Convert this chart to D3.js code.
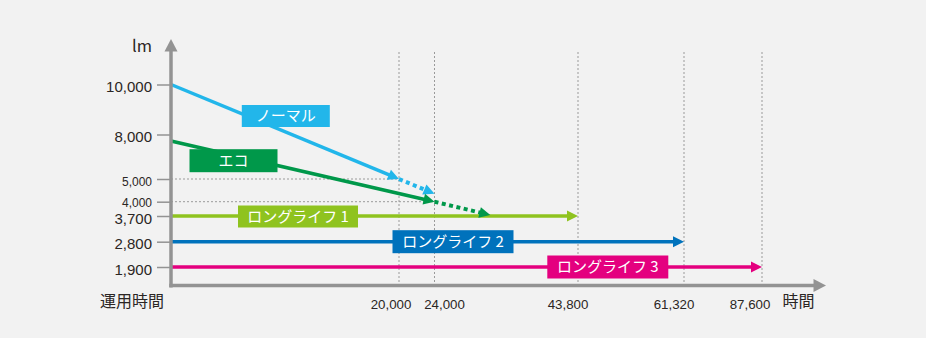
<!DOCTYPE html>
<html>
<head>
<meta charset="utf-8">
<script src="https://cdn.jsdelivr.net/npm/d3@7"></script>
<style>
  html, body { margin: 0; padding: 0; background: #f2f2f2; }
  svg { display: block; font-family: "Noto Sans CJK JP", "Noto Sans", sans-serif; }
</style>
</head>
<body>
<svg id="chart" width="926" height="338"></svg>
<script>
// ---- data ----
const yTicks = [10000, 8000, 5000, 4000, 3700, 2800, 1900];
const yTickLabels = ["10,000", "8,000", "5,000", "4,000", "3,700", "2,800", "1,900"];
const xTicks = [20000, 24000, 43800, 61320, 87600];
const xTickLabels = ["20,000", "24,000", "43,800", "61,320", "87,600"];
const seriesNames = ["ノーマル", "エコ", "ロングライフ 1", "ロングライフ 2", "ロングライフ 3"];
const unitLabel = "lm";
const yAxisTitle = "運用時間";
const xAxisTitle = "時間";

// [hours, lumens]
const normalSolid  = [[0, 10000], [20000, 5000]];
const normalDotted = [[20000, 5000], [24000, 4350]];
const ecoSolid     = [[0, 7560], [24000, 4000]];
const ecoDotted    = [[24000, 4000], [31700, 3720]];
const longLife1    = [[0, 3700], [43800, 3700]];
const longLife2    = [[0, 2800], [61320, 2800]];
const longLife3    = [[0, 1900], [87600, 1900]];

// reference guides drawn from the y axis to the matching hour line
const guides = [[5000, 20000], [4000, 24000]];

// ---- layout / style ----
const colors = ["#22b6ea", "#00984a", "#8fc31f", "#0072bc", "#e4007f"];
const axisColor = "#939393";
const textColor = "#2b2624";
const numFont = "'Liberation Sans', Arial, sans-serif";
const origin = { x: 171, y: 285.5 };

const svg = d3.select("#chart");
svg.append("rect").attr("width", 926).attr("height", 338).attr("fill", "#f2f2f2");

// schematic (piecewise) scales
const x = d3.scaleLinear()
  .domain([0, 20000, 24000, 43800, 61320, 87600])
  .range([origin.x, 399, 434.5, 578, 684, 762]);
const y = d3.scaleLinear()
  .domain([1900, 2800, 3700, 4000, 5000, 8000, 10000])
  .range([267, 241.7, 216, 201.7, 179, 134.5, 84.5]);

const gGrid = svg.append("g");
// vertical dotted hour lines
gGrid.selectAll("line.v").data(xTicks).join("line")
  .attr("x1", d => x(d)).attr("x2", d => x(d))
  .attr("y1", 52).attr("y2", origin.y)
  .attr("stroke", "#9a9a9a").attr("stroke-width", 1)
  .attr("stroke-dasharray", "2,2");
// horizontal dotted guides
gGrid.selectAll("line.h").data(guides).join("line")
  .attr("x1", origin.x).attr("x2", d => x(d[1]))
  .attr("y1", d => y(d[0])).attr("y2", d => y(d[0]))
  .attr("stroke", "#9a9a9a").attr("stroke-width", 1)
  .attr("stroke-dasharray", "2,2");

// line with arrowhead at the last point
function arrowLine(g, pts, color, dotted) {
  const p0 = [x(pts[0][0]), y(pts[0][1])];
  const p1 = [x(pts[1][0]), y(pts[1][1])];
  const dx = p1[0] - p0[0], dy = p1[1] - p0[1];
  const len = Math.hypot(dx, dy);
  const ux = dx / len, uy = dy / len;
  const headLen = 11, headHalf = 5.5;
  const bx = p1[0] - ux * headLen, by = p1[1] - uy * headLen;
  g.append("line")
    .attr("x1", p0[0]).attr("y1", p0[1])
    .attr("x2", bx + ux * 1).attr("y2", by + uy * 1)
    .attr("stroke", color).attr("stroke-width", dotted ? 4 : 3.5)
    .attr("stroke-dasharray", dotted ? "4,3.5" : null);
  g.append("path")
    .attr("d", d3.line()([
      [p1[0], p1[1]],
      [bx - uy * headHalf, by + ux * headHalf],
      [bx + uy * headHalf, by - ux * headHalf]
    ]) + "Z")
    .attr("fill", color);
}

const gLines = svg.append("g");
arrowLine(gLines, longLife1, colors[2], false);
arrowLine(gLines, longLife2, colors[3], false);
arrowLine(gLines, longLife3, colors[4], false);
arrowLine(gLines, normalSolid, colors[0], false);
arrowLine(gLines, normalDotted, colors[0], true);
arrowLine(gLines, ecoSolid, colors[1], false);
arrowLine(gLines, ecoDotted, colors[1], true);

// label boxes: centre x, centre y, width, height
const boxes = [
  { cx: 285.8, cy: 116, w: 88, h: 22 },
  { cx: 233.5, cy: 160.7, w: 88, h: 23 },
  { cx: 298, cy: y(3700) + 0.5, w: 120, h: 22 },
  { cx: 453, cy: y(2800), w: 121, h: 23 },
  { cx: 607.8, cy: y(1900), w: 121, h: 23 }
];
const gBoxes = svg.append("g");
seriesNames.forEach((name, i) => {
  const b = boxes[i];
  gBoxes.append("rect")
    .attr("x", b.cx - b.w / 2).attr("y", b.cy - b.h / 2)
    .attr("width", b.w).attr("height", b.h)
    .attr("fill", colors[i]);
  gBoxes.append("text")
    .attr("x", b.cx).attr("y", b.cy)
    .attr("dy", "0.36em")
    .attr("text-anchor", "middle")
    .attr("fill", "#fff")
    .attr("font-size", 15)
    .text(name);
});

// ---- axes ----
const yAxis = d3.axisLeft(y)
  .tickValues(yTicks)
  .tickSize(13)
  .tickPadding(5)
  .tickFormat((d, i) => yTickLabels[i]);
const gy = svg.append("g")
  .attr("transform", `translate(${origin.x - 1},0)`)
  .call(yAxis);
gy.select(".domain").remove();
gy.selectAll(".tick line").attr("stroke", axisColor).attr("stroke-width", 1.5);
const smallTick = d => d === 5000 || d === 4000;
gy.selectAll(".tick text")
  .attr("fill", textColor)
  .attr("font-family", numFont)
  .attr("font-size", d => smallTick(d) ? 12 : 15)
  .attr("dy", "0.35em")
  .attr("y", d => d === 4000 ? 0.5 : 2);

const xOffsets = [-8, 10, -10, -10, -12];
const gx = svg.append("g");
gx.selectAll("text").data(xTicks).join("text")
  .attr("x", (d, i) => x(d) + xOffsets[i])
  .attr("y", 304)
  .attr("dy", "0.35em")
  .attr("text-anchor", "middle")
  .attr("font-family", numFont)
  .attr("font-size", 13.3)
  .attr("fill", textColor)
  .text((d, i) => xTickLabels[i]);

// axis lines with arrowheads
const gAxis = svg.append("g");
gAxis.append("line")
  .attr("x1", origin.x).attr("x2", origin.x)
  .attr("y1", 50).attr("y2", origin.y + 2)
  .attr("stroke", axisColor).attr("stroke-width", 3.5);
gAxis.append("path")
  .attr("d", `M${origin.x},39 L${origin.x - 6.5},51.5 L${origin.x + 6.5},51.5 Z`)
  .attr("fill", axisColor);
gAxis.append("line")
  .attr("x1", origin.x - 1.75).attr("x2", 815)
  .attr("y1", origin.y).attr("y2", origin.y)
  .attr("stroke", axisColor).attr("stroke-width", 3.5);
gAxis.append("path")
  .attr("d", `M826,${origin.y} L813.5,${origin.y - 6.5} L813.5,${origin.y + 6.5} Z`)
  .attr("fill", axisColor);

// titles
svg.append("text")
  .attr("x", 152).attr("y", 46).attr("dy", "0.35em")
  .attr("text-anchor", "end").attr("font-size", 16.5).attr("fill", textColor)
  .text(unitLabel);
svg.append("text")
  .attr("x", 132).attr("y", 301).attr("dy", "0.36em")
  .attr("text-anchor", "middle").attr("font-size", 16).attr("fill", textColor)
  .text(yAxisTitle);
svg.append("text")
  .attr("x", 798.5).attr("y", 301.5).attr("dy", "0.36em")
  .attr("text-anchor", "middle").attr("font-size", 16).attr("fill", textColor)
  .text(xAxisTitle);
</script>
</body>
</html>
